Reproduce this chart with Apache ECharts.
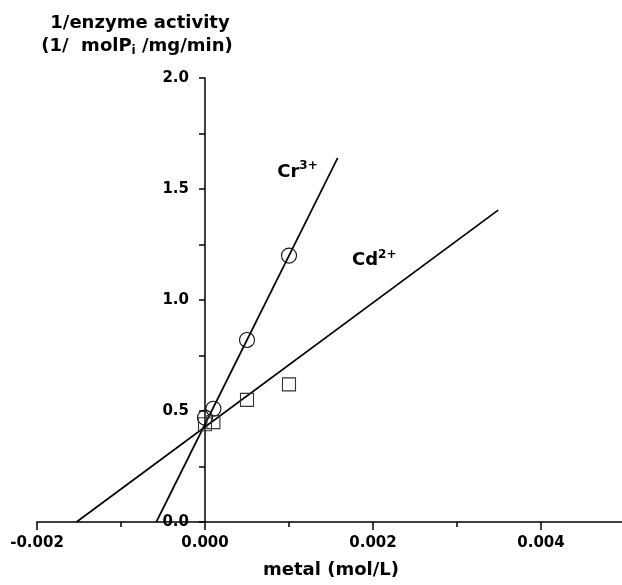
<!DOCTYPE html>
<html>
<head>
<meta charset="utf-8">
<script src="https://cdn.jsdelivr.net/npm/echarts@6/dist/echarts.min.js"></script>
<style>html,body{margin:0;padding:0;background:#fff}#c{width:622px;height:585px}</style>
</head>
<body>
<div id="c"></div>
<script>
// Data
var crX = [0, 0.0001, 0.0005, 0.001];
var crY = [0.47, 0.51, 0.82, 1.20];
var cdX = [0, 0.0001, 0.0005, 0.001];
var cdY = [0.44, 0.45, 0.55, 0.62];
// fitted lines (end points)
var crFitX = [-0.00058, 0.00158];
var crFitY = [0, 1.64];
var cdFitX = [-0.00153, 0.00349];
var cdFitY = [0, 1.405];
// annotation anchors
var crLabelPos = [0.00086, 1.577];
var cdLabelPos = [0.00175, 1.178];
var xTicks = [-0.002, 0.000, 0.002, 0.004];
var yTicks = [0.0, 0.5, 1.0, 1.5, 2.0];

function pairs(xs, ys) { return xs.map(function (x, i) { return [x, ys[i]]; }); }

var FONT = 'DejaVu Sans';
var GRID_LEFT = 37;
var chart = echarts.init(document.getElementById('c'));
var labRich = {
  b: { fontFamily: FONT, fontWeight: 'bold', fontSize: 18, color: '#000' },
  s: { fontFamily: FONT, fontWeight: 'bold', fontSize: 12, color: '#000', padding: [0, 0, 12, 0] }
};

chart.setOption({
  animation: false,
  backgroundColor: '#fff',
  grid: { left: GRID_LEFT, right: -3, top: 78, bottom: 63, containLabel: false, outerBoundsMode: 'none' },
  xAxis: [{
    type: 'value', min: -0.002, max: 0.005, interval: 0.002, position: 'bottom',
    axisLine: { show: true, onZero: false, lineStyle: { color: '#000', width: 1.5 } },
    axisTick: { show: true, length: 8, lineStyle: { color: '#000', width: 1.5 } },
    axisLabel: {
      margin: 14, showMaxLabel: false,
      fontFamily: FONT, fontWeight: 'bold', fontSize: 15, color: '#000',
      formatter: function (v) { return xTicks.some(function (t) { return Math.abs(t - v) < 1e-9; }) ? v.toFixed(3) : ''; }
    },
    splitLine: { show: false },
    name: 'metal (mol/L)', nameLocation: 'middle', nameGap: 39,
    nameTextStyle: { fontFamily: FONT, fontWeight: 'bold', fontSize: 18, color: '#000' }
  }, {
    type: 'value', min: -0.002, max: 0.005, interval: 0.001, position: 'bottom',
    axisLine: { show: false, onZero: false },
    axisTick: { show: true, length: 5, lineStyle: { color: '#000', width: 1.5 } },
    axisLabel: { show: false },
    splitLine: { show: false }
  }],
  yAxis: {
    type: 'value', min: 0, max: 2, interval: 0.5, position: 'left', offset: 0,
    axisLine: { show: true, onZero: false, lineStyle: { color: '#000', width: 1.5 } },
    axisTick: { show: true, inside: false, length: 6, lineStyle: { color: '#000', width: 1.5 } },
    minorTick: { show: true, splitNumber: 2, length: 6, lineStyle: { color: '#000', width: 1.5 } },
    axisLabel: {
      margin: 16, fontFamily: FONT, fontWeight: 'bold', fontSize: 15, color: '#000',
      formatter: function (v) { return v.toFixed(1); }
    },
    splitLine: { show: false }
  },
  graphic: [{
    type: 'text', x: 140, y: 23,
    style: { text: '1/enzyme activity', fill: '#000', font: 'bold 18px "DejaVu Sans"', textAlign: 'center', textVerticalAlign: 'middle' }
  }, {
    type: 'text', x: 137, y: 46,
    style: {
      text: '{b|(1/  molP}{i|i}{b| /mg/min)}', textAlign: 'center', textVerticalAlign: 'middle',
      rich: {
        b: { fontFamily: FONT, fontWeight: 'bold', fontSize: 18, fill: '#000' },
        i: { fontFamily: FONT, fontWeight: 'bold', fontSize: 12, fill: '#000', padding: [10, 0, 0, 0] }
      }
    }
  }],
  series: [{
    type: 'line', data: pairs(crFitX, crFitY), showSymbol: false, symbol: 'none',
    lineStyle: { color: '#000', width: 1.7 }, z: 2, silent: true
  }, {
    type: 'line', data: pairs(cdFitX, cdFitY), showSymbol: false, symbol: 'none',
    lineStyle: { color: '#000', width: 1.7 }, z: 2, silent: true
  }, {
    name: 'Cr3+', type: 'scatter', data: pairs(crX, crY), symbol: 'circle', symbolSize: 15,
    itemStyle: { color: 'rgba(0,0,0,0)', borderColor: '#111', borderWidth: 1.1, opacity: 1 }, z: 3
  }, {
    name: 'Cd2+', type: 'scatter', data: pairs(cdX, cdY), symbol: 'rect', symbolSize: 13,
    itemStyle: { color: 'rgba(0,0,0,0)', borderColor: '#333', borderWidth: 1.1, opacity: 1 }, z: 3
  }, {
    type: 'scatter', symbolSize: 0, data: [crLabelPos, cdLabelPos],
    itemStyle: { opacity: 1 },
    label: {
      show: true, position: [0, 0], align: 'left', verticalAlign: 'middle', color: '#000', opacity: 1,
      formatter: function (p) { return p.dataIndex === 0 ? '{b|Cr}{s|3+}' : '{b|Cd}{s|2+}'; },
      rich: labRich
    }, z: 4
  }]
});

// Place the y axis where x = 0 (axes cross at the origin)
var zeroPx = chart.convertToPixel({ xAxisIndex: 0 }, 0);
chart.setOption({ yAxis: { offset: -(zeroPx - GRID_LEFT) } });
</script>
</body>
</html>
